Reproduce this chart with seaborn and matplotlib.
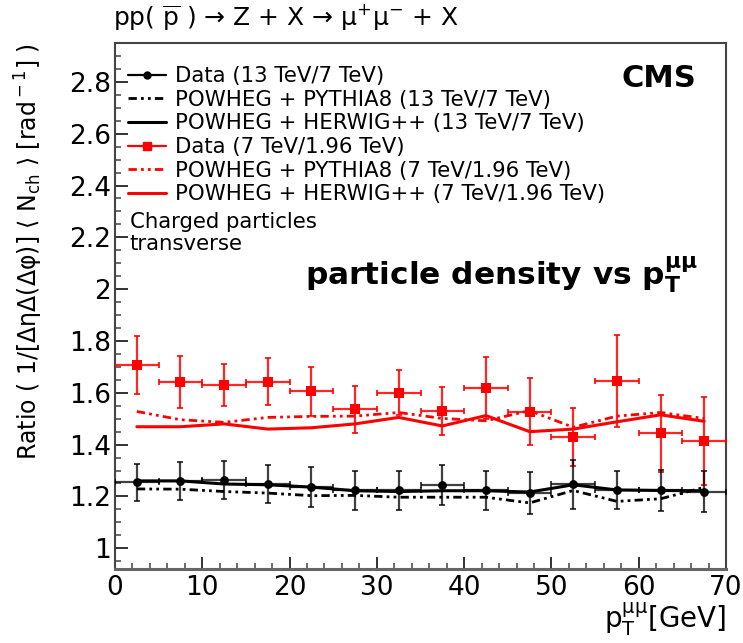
import numpy as np
import pandas as pd
import matplotlib
matplotlib.use("Agg")
import matplotlib.pyplot as plt
from matplotlib.lines import Line2D
from matplotlib.ticker import MultipleLocator, FormatStrFormatter
import seaborn as sns

# ---------------- data ----------------
pt_centers = [2.5, 7.5, 12.5, 17.5, 22.5, 27.5, 32.5, 37.5, 42.5, 47.5, 52.5, 57.5, 62.5, 67.5]
pt_half_bin = [2.5] * 14

data_13_7 = [1.255, 1.260, 1.264, 1.247, 1.238, 1.223, 1.223, 1.245, 1.223, 1.213, 1.247, 1.225, 1.223, 1.219]
err_13_7 = [0.072, 0.074, 0.074, 0.074, 0.077, 0.075, 0.075, 0.078, 0.075, 0.080, 0.095, 0.075, 0.080, 0.080]
pythia_13_7 = [1.229, 1.228, 1.219, 1.213, 1.203, 1.204, 1.197, 1.197, 1.197, 1.175, 1.223, 1.181, 1.191, 1.235]
herwig_13_7 = [1.260, 1.260, 1.248, 1.245, 1.236, 1.222, 1.219, 1.222, 1.222, 1.217, 1.245, 1.225, 1.223, 1.222]

data_7_196 = [1.707, 1.643, 1.630, 1.643, 1.606, 1.536, 1.601, 1.530, 1.620, 1.527, 1.428, 1.646, 1.443, 1.413]
err_7_196 = [0.112, 0.100, 0.082, 0.092, 0.095, 0.092, 0.088, 0.092, 0.120, 0.130, 0.112, 0.178, 0.150, 0.170]
pythia_7_196 = [1.528, 1.496, 1.486, 1.505, 1.509, 1.510, 1.524, 1.501, 1.492, 1.531, 1.467, 1.510, 1.524, 1.501]
herwig_7_196 = [1.469, 1.469, 1.480, 1.460, 1.465, 1.480, 1.505, 1.472, 1.512, 1.450, 1.460, 1.488, 1.515, 1.490]

legend_labels = [
    "Data (13 TeV/7 TeV)",
    "POWHEG + PYTHIA8 (13 TeV/7 TeV)",
    "POWHEG + HERWIG++ (13 TeV/7 TeV)",
    "Data (7 TeV/1.96 TeV)",
    "POWHEG + PYTHIA8 (7 TeV/1.96 TeV)",
    "POWHEG + HERWIG++ (7 TeV/1.96 TeV)",
]

# ---------------- style ----------------
sns.set_theme(style="ticks")
plt.rcParams["font.family"] = ["DejaVu Sans"]
plt.rcParams["mathtext.fontset"] = "dejavusans"
plt.rcParams["text.color"] = "black"
plt.rcParams["axes.labelcolor"] = "black"
plt.rcParams["xtick.labelcolor"] = "black"
plt.rcParams["ytick.labelcolor"] = "black"

RED = "#ff0000"
BLACK = "#000000"
DASHDOT = (0, (3, 1.5, 1, 1.5, 1, 1.5))

fig = plt.figure(figsize=(7.43, 6.43), dpi=100)
ax = fig.add_axes([0.1548, 0.1151, 0.8223, 0.8180])

df = pd.DataFrame({
    "pt": pt_centers,
    "herwig_13_7": herwig_13_7, "pythia_13_7": pythia_13_7,
    "herwig_7_196": herwig_7_196, "pythia_7_196": pythia_7_196,
    "data_13_7": data_13_7, "data_7_196": data_7_196,
})

# model curves
sns.lineplot(data=df, x="pt", y="herwig_7_196", ax=ax, color=RED, linewidth=2.2,
             estimator=None, zorder=2)
sns.lineplot(data=df, x="pt", y="pythia_7_196", ax=ax, color=RED, linewidth=2.0,
             linestyle=DASHDOT, estimator=None, zorder=2)
sns.lineplot(data=df, x="pt", y="herwig_13_7", ax=ax, color=BLACK, linewidth=2.2,
             estimator=None, zorder=2)
sns.lineplot(data=df, x="pt", y="pythia_13_7", ax=ax, color=BLACK, linewidth=2.0,
             linestyle=DASHDOT, estimator=None, zorder=2)

# data error bars
ax.errorbar(pt_centers, data_7_196, xerr=pt_half_bin, yerr=err_7_196, fmt="none",
            ecolor=RED, elinewidth=1.6, capsize=2.5, capthick=1.4, alpha=0.85, zorder=3)
ax.errorbar(pt_centers, data_13_7, xerr=pt_half_bin, yerr=err_13_7, fmt="none",
            ecolor=BLACK, elinewidth=1.6, capsize=2.5, capthick=1.4, alpha=0.75, zorder=3)
sns.scatterplot(data=df, x="pt", y="data_7_196", ax=ax, color=RED, marker="s",
                s=60, edgecolor=RED, linewidth=0, zorder=4)
sns.scatterplot(data=df, x="pt", y="data_13_7", ax=ax, color=BLACK, marker="o",
                s=40, edgecolor=BLACK, linewidth=0, zorder=4)

# ---------------- axes ----------------
ax.set_xlim(0, 70)
ax.set_ylim(0.92, 2.95)
ax.xaxis.set_major_locator(MultipleLocator(10))
ax.xaxis.set_minor_locator(MultipleLocator(2))
ax.yaxis.set_major_locator(MultipleLocator(0.2))
ax.yaxis.set_minor_locator(MultipleLocator(0.05))
ax.yaxis.set_major_formatter(FormatStrFormatter("%g"))
ax.tick_params(axis="both", which="major", direction="in", length=9, width=1.3,
               labelsize=19, color="#222222", labelcolor="black", top=False, right=False)
ax.tick_params(axis="both", which="minor", direction="in", length=4.5, width=1.1,
               color="#444444", top=False, right=False)
ax.tick_params(axis="x", which="major", pad=4)
ax.tick_params(axis="y", which="major", pad=3)
for s in ax.spines.values():
    s.set_color("#444444")
    s.set_linewidth(1.5)
ax.spines["bottom"].set_linewidth(2.2)
ax.spines["bottom"].set_color("#666666")

ax.set_xlabel(r"p$_{\rm T}^{\rm \mu\mu}$[GeV]", fontsize=20, loc="right", labelpad=0,
              color="black")
ax.set_ylabel(r"Ratio ( 1/[ΔηΔ(Δφ)] ⟨ N$_{\rm ch}$ ⟩ [rad$^{\rm -1}$] )",
              fontsize=17, loc="top", color="black")
ax.yaxis.set_label_coords(-0.115, 1.0)

# legend
handles = [
    Line2D([], [], color=BLACK, marker="o", markersize=5, linewidth=1.6),
    Line2D([], [], color=BLACK, linestyle=DASHDOT, linewidth=2.0),
    Line2D([], [], color=BLACK, linewidth=2.2),
    Line2D([], [], color=RED, marker="s", markersize=6, linewidth=1.6),
    Line2D([], [], color=RED, linestyle=DASHDOT, linewidth=2.0),
    Line2D([], [], color=RED, linewidth=2.2),
]
leg = ax.legend(handles, legend_labels, loc="upper left", bbox_to_anchor=(0.022, 0.956),
                frameon=False, fontsize=15.3, labelspacing=0.17, handlelength=1.75,
                handletextpad=0.45, borderpad=0, borderaxespad=0)
for t in leg.get_texts():
    t.set_color("black")

ax.text(0.024, 0.660, "Charged particles", transform=ax.transAxes, fontsize=15.3,
        ha="left", va="center", color="black")
ax.text(0.024, 0.618, "transverse", transform=ax.transAxes, fontsize=15.3,
        ha="left", va="center", color="black")
ax.text(0.89, 0.933, "CMS", transform=ax.transAxes, fontsize=22, fontweight="bold",
        ha="center", va="center", color="black")
ax.text(0.311, 0.54, r"particle density vs $\mathbf{p_T^{\mu\mu}}$", transform=ax.transAxes,
        fontsize=22.5, fontweight="bold", ha="left", va="baseline", color="black")

fig.text(0.152, 0.972, r"pp( $\overline{\rm p}$ ) → Z + X → μ$^{+}$μ$^{-}$ + X",
         fontsize=18, ha="left", va="center", color="black")

fig.savefig("out.png", dpi=100)
